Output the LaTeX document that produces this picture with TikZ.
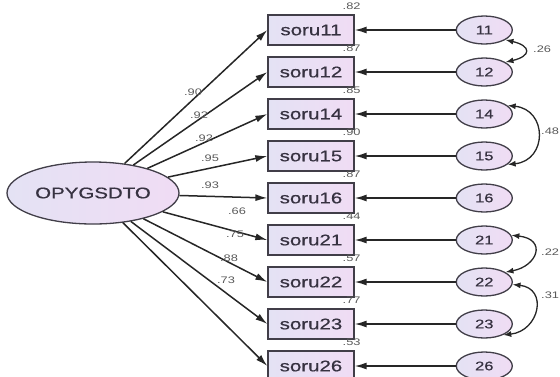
\documentclass[tikz,border=0pt]{standalone}
\usepackage{fontspec}
\usepackage{tikz}
\usetikzlibrary{arrows.meta,positioning,shapes.geometric}
\newfontfamily\amosfont[FakeStretch=1.32,FakeBold=0.6]{Liberation Sans}
\newfontfamily\amoslight[FakeStretch=1.35]{Liberation Sans}
\definecolor{boxleft}{RGB}{228,226,244}
\definecolor{boxright}{RGB}{240,220,244}
\definecolor{edgegray}{RGB}{65,62,72}
\definecolor{txtgray}{RGB}{55,50,65}

\begin{document}
\begin{tikzpicture}[
  x=1pt, y=-1pt,
  node distance=10.7pt,
  item/.style={draw=edgegray, line width=1.3pt, minimum width=86pt, minimum height=30pt, inner sep=0pt, left color=boxleft, right color=boxright, text=txtgray, font=\amosfont\fontsize{15.5}{17}\selectfont},
  latent/.style={draw=edgegray, ellipse, line width=1.3pt, minimum width=172pt, minimum height=62pt, inner sep=0pt, left color=boxleft, right color=boxright, text=txtgray, font=\amosfont\fontsize{15.5}{17}\selectfont},
  err/.style={draw=edgegray, ellipse, line width=1.3pt, minimum width=56pt, minimum height=28pt, inner sep=0pt, left color=boxleft, right color=boxright, text=txtgray, font=\amosfont\fontsize{12.5}{14}\selectfont},
  coef/.style={text=black!65, font=\amoslight\fontsize{9.5}{10}\selectfont, inner sep=0pt},
  arrow/.style={-{Latex[length=12pt,width=7pt]}, line width=1.5pt, draw=black!85},
  cov/.style={{Latex[length=8pt,width=6pt]}-{Latex[length=8pt,width=6pt]}, line width=1.3pt, draw=black!85}
]
\useasboundingbox (0,0) rectangle (560,376);

% latent factor
\node[latent] (lat) at (93,193) {OPYGSDTO};

% observed items
\node[item] (s11) at (311,30) {soru11};
\node[item, below=of s11] (s12) {soru12};
\node[item, below=of s12] (s14) {soru14};
\node[item, below=of s14] (s15) {soru15};
\node[item, below=of s15] (s16) {soru16};
\node[item, below=of s16] (s21) {soru21};
\node[item, below=of s21] (s22) {soru22};
\node[item, below=of s22] (s23) {soru23};
\node[item, below=of s23] (s26) {soru26};

% error terms
\node[err, right=101pt of s11] (e11) {11};
\node[err, right=101pt of s12] (e12) {12};
\node[err, right=101pt of s14] (e14) {14};
\node[err, right=101pt of s15] (e15) {15};
\node[err, right=101pt of s16] (e16) {16};
\node[err, right=101pt of s21] (e21) {21};
\node[err, right=101pt of s22] (e22) {22};
\node[err, right=101pt of s23] (e23) {23};
\node[err, right=101pt of s26] (e26) {26};

% loadings
\draw[arrow] (lat) -- (s11.west);
\draw[arrow] (lat) -- (s12.west);
\draw[arrow] (lat) -- (s14.west);
\draw[arrow] (lat) -- (s15.west);
\draw[arrow] (lat) -- (s16.west);
\draw[arrow] (lat) -- (s21.west);
\draw[arrow] (lat) -- (s22.west);
\draw[arrow] (lat) -- (s23.west);
\draw[arrow] (lat) -- (s26.west);

\node[coef] (c11) at (193,92) {.90};
\node[coef] (c12) at (199,115) {.92};
\node[coef] (c14) at (204,138) {.92};
\node[coef] (c15) at (210,158) {.95};
\node[coef] (c16) at (210,185) {.93};
\node[coef] (c21) at (237,211) {.66};
\node[coef] (c22) at (235,234) {.75};
\node[coef] (c23) at (229,258) {.88};
\node[coef] (c26) at (226,280) {.73};

% error paths
\draw[arrow] (e11) -- (s11);
\draw[arrow] (e12) -- (s12);
\draw[arrow] (e14) -- (s14);
\draw[arrow] (e15) -- (s15);
\draw[arrow] (e16) -- (s16);
\draw[arrow] (e21) -- (s21);
\draw[arrow] (e22) -- (s22);
\draw[arrow] (e23) -- (s23);
\draw[arrow] (e26) -- (s26);

% squared multiple correlations
\node[coef] (q11) at ([xshift=-3pt,yshift=8pt]s11.north east) {.82};
\node[coef] (q12) at ([xshift=-3pt,yshift=8pt]s12.north east) {.87};
\node[coef] (q14) at ([xshift=-3pt,yshift=8pt]s14.north east) {.85};
\node[coef] (q15) at ([xshift=-3pt,yshift=8pt]s15.north east) {.90};
\node[coef] (q16) at ([xshift=-3pt,yshift=8pt]s16.north east) {.87};
\node[coef] (q21) at ([xshift=-3pt,yshift=8pt]s21.north east) {.44};
\node[coef] (q22) at ([xshift=-3pt,yshift=8pt]s22.north east) {.57};
\node[coef] (q23) at ([xshift=-3pt,yshift=8pt]s23.north east) {.77};
\node[coef] (q26) at ([xshift=-3pt,yshift=8pt]s26.north east) {.53};

% error covariances
\draw[cov] (e11.-25) .. controls +(26,6) and +(26,-6) .. (e12.25);
\draw[cov] (e14.20) .. controls +(40,4) and +(40,-4) .. (e15.-20);
\draw[cov] (e21.10) .. controls +(36,4) and +(32,-6) .. (e22.25);
\draw[cov] (e22.-5) .. controls +(36,4) and +(36,-4) .. (e23.-30);

\node[coef, anchor=west] (k1) at (533,49) {.26};
\node[coef, anchor=west] (k2) at (541,131) {.48};
\node[coef, anchor=west] (k3) at (541,252) {.22};
\node[coef, anchor=west] (k4) at (541,295) {.31};
\end{tikzpicture}
\end{document}
